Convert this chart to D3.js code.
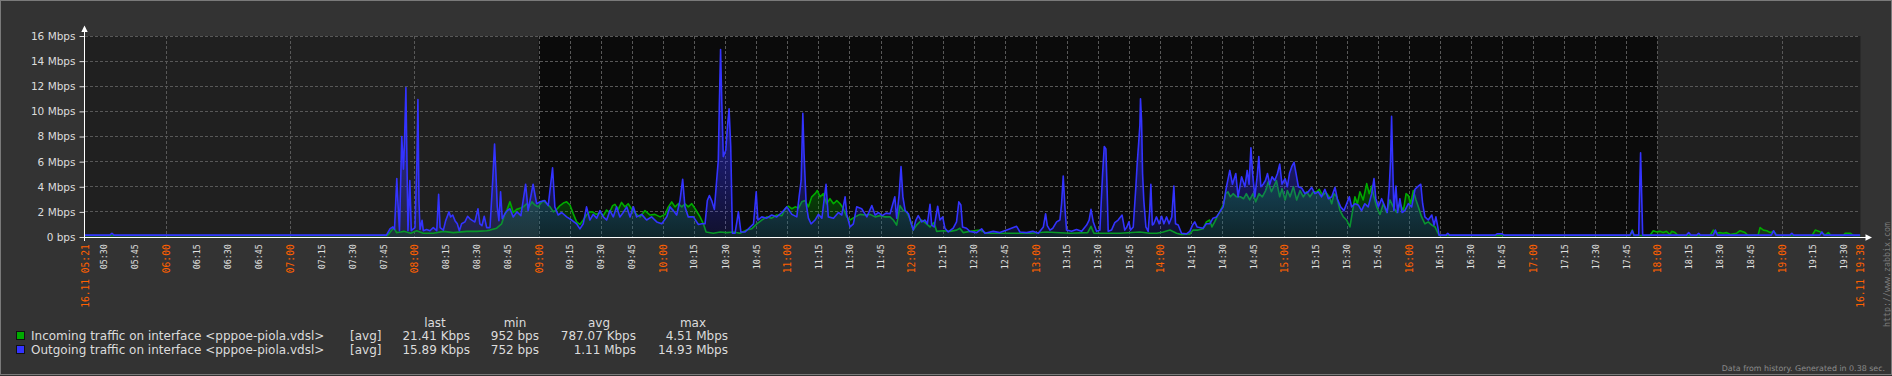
<!DOCTYPE html>
<html>
<head>
<meta charset="utf-8">
<script src="https://cdn.jsdelivr.net/npm/d3@7"></script>
<style>
  html, body { margin: 0; padding: 0; background: #333333; }
  svg { display: block; }
  text { font-family: "DejaVu Sans", sans-serif; }
</style>
</head>
<body>
<svg id="chart" width="1892" height="376"></svg>
<script>
// ---- data ----------------------------------------------------------------
// clock strings are "HH:MM", minutes may carry a decimal part
var periodStart = "05:21",
    periodEnd = "19:38",
    workStart = "09:00",
    workEnd = "18:00";

var yTicks = [0, 2, 4, 6, 8, 10, 12, 14, 16];   // Mbps

var seriesNames = [
    "Incoming traffic on interface <pppoe-piola.vdsl>",
    "Outgoing traffic on interface <pppoe-piola.vdsl>"
];
var statHeaders = ["last", "min", "avg", "max"];
var incomingStats = ["21.41 Kbps", "952 bps", "787.07 Kbps", "4.51 Mbps"];
var outgoingStats = ["15.89 Kbps", "752 bps", "1.11 Mbps", "14.93 Mbps"];

// incoming traffic, [clock, Mbps]
var incoming = [
["05:21",0.12],["07:47",0.12],["07:50.1",0.75],["07:51.4",0.35],["07:53.3",0.4],["07:54.9",0.45],["07:58.2",0.3],
["08:01.1",0.5],["08:04.3",0.3],["08:09.1",0.3],["08:14",0.45],["08:18.8",0.35],["08:25.3",0.45],["08:30.1",0.45],
["08:34.9",0.5],["08:36.5",0.55],["08:39.7",0.7],["08:42.1",1.05],["08:43.7",1.85],["08:44.8",2.2],["08:46.1",2.8],
["08:46.9",2.4],["08:47.7",1.95],["08:49.4",2.2],["08:51.3",2.3],["08:52.6",2.4],["08:54.2",2.65],["08:55.4",2.4],
["08:56.7",2.8],["08:58.2",2.55],["08:59.8",2.4],["09:01",2.7],["09:02.2",2.9],["09:03.9",2.65],["09:05.5",2.4],
["09:07.1",2.0],["09:08.7",2.2],["09:10.3",2.5],["09:11.9",2.7],["09:13.5",2.8],["09:15.1",2.55],["09:16.7",1.85],
["09:18.3",1.2],["09:19.9",1.0],["09:21.5",1.35],["09:23.1",1.75],["09:24.6",2.0],["09:26",2.0],["09:27.8",1.8],
["09:29.6",1.95],["09:31.2",1.7],["09:32.8",2.15],["09:34.2",1.95],["09:35.7",2.5],["09:36.8",2.6],["09:38.4",2.2],
["09:40",2.75],["09:41.6",2.4],["09:43.2",2.65],["09:45",2.2],["09:47.3",1.8],["09:48.9",1.6],["09:51.3",2.1],
["09:53.7",1.75],["09:56.1",1.8],["09:58.6",1.6],["10:01",1.8],["10:02.6",2.4],["10:04.2",2.8],["10:05.8",2.4],
["10:07.4",2.65],["10:09.1",2.4],["10:10.6",2.65],["10:12.2",2.4],["10:13.9",2.65],["10:15.5",2.25],["10:17.9",1.6],
["10:19.5",1.05],["10:20.8",0.4],["10:24.3",0.3],["10:27.6",0.4],["10:30.8",0.35],["10:34",0.4],["10:37.2",0.3],
["10:40.4",0.55],["10:42.8",0.65],["10:45.3",1.05],["10:47.7",1.35],["10:50.1",1.6],["10:52.5",1.5],["10:54.9",1.75],
["10:57.4",1.7],["10:59",2.25],["11:00.5",2.45],["11:02.2",2.25],["11:03.8",2.4],["11:05.4",2.3],["11:07",2.8],
["11:08.6",2.9],["11:10.2",2.4],["11:11.8",3.2],["11:13.4",3.45],["11:14.5",3.7],["11:15.8",3.2],["11:17.4",3.45],
["11:19",2.65],["11:20.6",3.05],["11:22.3",2.65],["11:23.9",2.9],["11:25.5",2.65],["11:27.1",2.25],["11:28.7",1.6],
["11:30.3",1.35],["11:32.7",1.6],["11:35.1",1.8],["11:37.5",1.75],["11:40",1.8],["11:42.4",1.6],["11:44.8",1.7],
["11:47.2",1.6],["11:49.6",1.6],["11:51.2",1.35],["11:52.8",0.95],["11:54.4",2.5],["11:56",2.1],["11:57.6",2.0],
["11:59.2",1.45],["12:00.8",0.55],["12:02.4",0.95],["12:04.9",1.35],["12:06.5",1.15],["12:08.9",0.8],["12:10.8",1.15],
["12:12.1",0.45],["12:15.3",0.5],["12:18.5",0.45],["12:21.7",0.55],["12:23.3",0.7],["12:24.9",0.35],["12:29.8",0.5],
["12:33",0.55],["12:36.2",0.3],["12:42.6",0.3],["12:57.1",0.3],["13:05.1",0.4],["13:16.4",0.3],["13:25",0.35],
["13:26.6",0.85],["13:28",0.3],["13:40.6",0.3],["13:50.2",0.4],["13:55",0.3],["13:58.4",0.3],["14:01.5",0.4],
["14:04.7",0.55],["14:07.9",0.3],["14:10.3",0.2],["14:14.3",0.25],["14:15.9",0.55],["14:18.3",0.55],["14:20.7",0.65],
["14:22.3",1.2],["14:23.9",1.35],["14:25",0.8],["14:26.3",1.2],["14:27.9",1.75],["14:29.5",2.25],["14:30.7",2.65],
["14:31.6",3.45],["14:32.7",3.6],["14:33.9",3.2],["14:35.2",3.45],["14:36.8",3.2],["14:38.7",3.2],["14:40.3",3.05],
["14:41.6",3.45],["14:43.2",2.95],["14:44.8",3.45],["14:46.1",2.8],["14:47.7",3.45],["14:49.3",3.2],["14:50.9",3.7],
["14:52.2",4.4],["14:53.7",3.6],["14:54.8",4.0],["14:56.1",4.5],["14:57.7",3.2],["14:58.8",3.85],["15:00.3",2.95],
["15:01.4",3.7],["15:02.7",3.2],["15:04.3",4.0],["15:05.9",2.95],["15:07.5",3.7],["15:09.1",3.2],["15:10.7",3.6],
["15:12.3",3.2],["15:13.9",3.6],["15:15.5",3.6],["15:16.8",3.8],["15:18.4",3.3],["15:20",3.55],["15:21.6",3.2],
["15:22.8",2.65],["15:23.9",3.45],["15:25.2",3.2],["15:26.8",2.1],["15:28.4",1.6],["15:30",1.35],["15:31.6",0.8],
["15:32.9",2.1],["15:34",3.2],["15:35.2",2.65],["15:36.4",3.6],["15:38",2.95],["15:39.7",4.25],["15:40.9",3.45],
["15:42.1",4.05],["15:43.2",3.2],["15:44.5",2.4],["15:46.1",1.8],["15:47.7",2.65],["15:49.3",1.95],["15:50.9",2.95],
["15:52.5",2.4],["15:54.2",1.95],["15:55.7",2.65],["15:57.4",2.1],["15:58.7",3.45],["15:59.8",3.3],["16:00.9",2.65],
["16:02.2",3.7],["16:03.5",2.95],["16:04.6",2.4],["16:06.2",1.6],["16:07.8",1.05],["16:09.4",1.2],["16:11.1",0.95],
["16:12.7",0.8],["16:13.8",0.4],["16:14.8",0.12],["17:46.8",0.12],["17:47.9",0.55],["17:48.7",0.12],["17:56.4",0.12],
["17:58",0.5],["17:59.7",0.4],["18:01.2",0.45],["18:02.8",0.35],["18:04.4",0.45],["18:06.1",0.2],["18:06.9",0.45],
["18:08.5",0.35],["18:10",0.12],["18:25.4",0.12],["18:27",0.55],["18:28.6",0.3],["18:30.2",0.35],["18:31.7",0.3],
["18:33.5",0.35],["18:35.1",0.2],["18:38.3",0.3],["18:39.9",0.5],["18:42.3",0.35],["18:43.8",0.12],["18:48.6",0.15],
["18:49.6",0.75],["18:51.2",0.55],["18:52.8",0.5],["18:54.5",0.35],["18:56.1",0.45],["18:57.8",0.12],["19:14.7",0.12],
["19:16.2",0.55],["19:17.8",0.45],["19:19.4",0.35],["19:21",0.15],["19:22.5",0.35],["19:23.9",0.12],["19:29.7",0.12],
["19:30.7",0.3],["19:33.1",0.3],["19:34.5",0.12],["19:38",0.12]
];

// outgoing traffic, [clock, Mbps]
var outgoing = [
["05:21",0.15],["05:33",0.15],["05:34",0.3],["05:35",0.15],["07:46.5",0.15],["07:48.3",0.67],["07:49.6",0.8],
["07:50.4",0.6],["07:51.5",4.65],["07:52",2.9],["07:52.8",0.5],["07:53.9",8.0],["07:54.7",5.4],["07:55.2",7.4],
["07:55.9",11.9],["07:56.4",6.1],["07:56.9",0.5],["07:57.8",4.5],["07:58.5",0.5],["07:59.2",0.6],["08:00.3",0.75],
["08:01.2",5.85],["08:01.7",10.95],["08:02.2",2.9],["08:02.7",0.6],["08:03.7",1.33],["08:04.3",0.5],["08:05.9",0.6],
["08:07.5",0.5],["08:09.1",0.75],["08:10.8",0.5],["08:11.7",3.4],["08:12.4",0.75],["08:14",0.55],["08:15.1",1.3],
["08:16.7",2.0],["08:17.5",1.6],["08:18.5",1.75],["08:19.6",1.3],["08:20.7",1.05],["08:21.7",0.5],["08:22.8",1.05],
["08:24.4",1.2],["08:25.7",1.65],["08:26.8",1.45],["08:28.1",1.3],["08:29.2",1.2],["08:30.7",2.25],["08:31.6",1.05],
["08:32.6",0.9],["08:33.7",1.65],["08:34.9",0.75],["08:36.5",0.75],["08:37.8",4.5],["08:38.7",7.4],["08:39.4",4.9],
["08:40",2.4],["08:40.8",1.3],["08:41.6",3.6],["08:42.4",1.45],["08:43.7",1.85],["08:44.8",2.1],["08:46.1",2.25],
["08:47.7",1.6],["08:49.5",2.0],["08:51.4",1.7],["08:53.7",4.2],["08:54.9",2.1],["08:57.3",4.2],["08:59",2.65],
["09:00.6",2.8],["09:03",2.9],["09:04.6",2.5],["09:06.7",5.5],["09:07.8",2.4],["09:09.4",1.75],["09:11.1",1.95],
["09:13.5",1.6],["09:15.9",1.35],["09:18.3",1.05],["09:19.9",0.65],["09:21.5",1.05],["09:23.1",2.4],["09:24.7",1.35],
["09:26.3",1.8],["09:28",1.5],["09:29.6",2.1],["09:31.2",1.6],["09:32.8",1.35],["09:34.4",2.1],["09:36",1.6],
["09:37.6",2.4],["09:39.2",1.6],["09:40.8",1.95],["09:42.5",2.4],["09:44.1",1.6],["09:45.7",2.4],["09:47.3",1.6],
["09:49.7",1.8],["09:52.1",1.35],["09:54.5",1.6],["09:57",1.2],["09:59.4",1.05],["10:01.8",1.6],["10:03.4",2.4],
["10:05",2.1],["10:06.6",1.75],["10:08.2",2.9],["10:09.5",4.6],["10:10.6",2.4],["10:12.2",1.6],["10:14.7",1.6],
["10:17.1",1.0],["10:18.7",1.05],["10:20.3",1.05],["10:21.4",2.9],["10:22.4",3.3],["10:23.5",2.9],["10:24.8",2.2],
["10:25.9",4.5],["10:26.7",6.1],["10:27.2",10.5],["10:27.8",14.93],["10:28.4",10.6],["10:29.1",6.4],["10:30.3",6.9],
["10:31.1",8.75],["10:31.9",10.2],["10:32.7",7.2],["10:33.5",0.3],["10:34.8",0.3],["10:36.4",2.0],["10:37.6",0.4],
["10:39.6",0.4],["10:42.1",0.8],["10:43.7",1.05],["10:45",3.6],["10:45.8",1.35],["10:47.7",1.6],["10:50.1",1.5],
["10:52.5",1.75],["10:54.9",1.6],["10:57.4",1.95],["10:59.8",2.4],["11:02.2",1.8],["11:04.6",1.6],["11:05.7",3.2],
["11:06.7",4.5],["11:07.5",9.85],["11:08.1",6.6],["11:09.1",2.65],["11:10.2",1.5],["11:11.5",1.05],["11:13.4",1.35],
["11:15",1.8],["11:16.7",1.5],["11:18.7",4.2],["11:19.8",1.6],["11:22.3",1.5],["11:24.7",1.95],["11:26.3",1.75],
["11:27.9",3.2],["11:28.7",1.8],["11:30.3",0.8],["11:31.9",1.05],["11:33.5",2.4],["11:35.9",2.25],["11:38.4",1.6],
["11:40.8",2.5],["11:42.4",1.75],["11:44",1.95],["11:45.8",1.7],["11:47.7",1.9],["11:49.6",1.85],["11:51.9",3.2],
["11:52.8",1.5],["11:54",3.4],["11:54.9",5.6],["11:55.8",3.2],["11:56.9",2.1],["11:58.5",1.85],["11:59.6",1.2],
["12:00.8",0.55],["12:02.1",1.35],["12:03.2",1.7],["12:04.9",1.2],["12:06.5",1.35],["12:07.6",1.05],["12:08.9",2.6],
["12:09.7",0.95],["12:10.9",0.8],["12:12.6",2.45],["12:13.7",1.35],["12:15",1.6],["12:16.1",0.7],["12:17.7",0.4],
["12:20.1",0.7],["12:21.7",1.2],["12:22.8",2.8],["12:23.8",2.55],["12:24.6",0.8],["12:26.5",0.7],["12:28.1",0.45],
["12:31.4",0.35],["12:33.8",0.65],["12:35.4",0.3],["12:39.4",0.45],["12:42.6",0.35],["12:46.6",0.6],["12:50.7",0.85],
["12:52.3",0.4],["12:55.5",0.35],["12:58.5",0.45],["13:01.2",0.3],["13:03.6",0.8],["13:04.7",1.85],["13:05.5",0.9],
["13:06.8",0.55],["13:08.2",0.7],["13:10",1.2],["13:11.6",1.35],["13:12.4",2.65],["13:13.2",4.85],["13:14",2.4],
["13:14.8",0.55],["13:17.2",0.45],["13:19.6",0.6],["13:22.1",0.45],["13:24.5",0.95],["13:25.7",1.35],["13:26.6",2.2],
["13:27.7",1.2],["13:29.3",0.45],["13:30.9",0.55],["13:32.2",5.05],["13:33",7.2],["13:33.8",7.0],["13:34.4",3.7],
["13:34.9",0.45],["13:36.5",0.55],["13:38.1",1.15],["13:39.7",1.35],["13:41.6",1.75],["13:42.9",0.55],["13:43.9",0.8],
["13:44.9",1.2],["13:45.7",0.55],["13:47",0.8],["13:48.3",4.1],["13:48.9",5.85],["13:49.6",7.45],["13:50.2",8.9],
["13:50.5",11.0],["13:51",9.3],["13:51.5",5.05],["13:52.1",2.9],["13:53.1",0.8],["13:54.2",0.45],["13:55",2.25],
["13:55.5",4.2],["13:56.2",0.95],["13:56.9",1.05],["13:58.2",1.6],["13:59.5",1.05],["14:00.7",1.65],["14:01.8",1.05],
["14:03.1",1.6],["14:04.3",1.05],["14:05.6",1.6],["14:06.6",4.05],["14:07.4",1.05],["14:08.7",0.95],["14:10.3",0.3],
["14:12.7",0.25],["14:14.3",0.45],["14:15.6",0.95],["14:16.7",1.2],["14:17.8",0.8],["14:20.7",0.7],["14:22.3",1.05],
["14:23.9",1.05],["14:25.5",1.5],["14:27.2",1.6],["14:28.8",2.0],["14:30.4",2.4],["14:32",4.0],["14:33.6",5.3],
["14:34.9",4.2],["14:36.5",5.05],["14:37.6",3.2],["14:39.3",4.8],["14:40.9",4.0],["14:42",5.3],["14:42.9",4.2],
["14:43.8",7.1],["14:44.6",5.05],["14:45.7",3.2],["14:46.8",4.8],["14:47.6",6.4],["14:48.6",4.0],["14:49.7",4.2],
["14:50.8",4.5],["14:51.8",5.05],["14:52.9",4.2],["14:54",4.8],["14:55.3",4.5],["14:56.6",5.05],["14:57.7",5.8],
["14:58.8",4.2],["15:00.3",4.65],["15:01.4",4.0],["15:02.4",5.05],["15:03.5",5.6],["15:04.6",5.95],["15:05.6",5.05],
["15:06.7",4.0],["15:08.3",3.9],["15:09.9",3.45],["15:11.5",3.6],["15:13.1",3.95],["15:14.7",3.45],["15:16.3",3.6],
["15:17.9",3.2],["15:19.5",3.8],["15:21.2",3.05],["15:22.8",3.2],["15:24.4",3.95],["15:25.5",3.05],["15:27.1",2.4],
["15:28.7",2.1],["15:30",2.65],["15:31.3",3.2],["15:32.4",2.4],["15:34",2.65],["15:35.6",2.55],["15:37.2",2.1],
["15:38.8",2.65],["15:40.4",2.4],["15:42.1",3.45],["15:43.2",4.65],["15:44.1",3.05],["15:45.3",2.4],["15:46.9",3.05],
["15:48.5",2.4],["15:49.6",1.95],["15:50.6",4.05],["15:51.2",6.1],["15:51.7",9.6],["15:52.2",6.1],["15:52.8",2.1],
["15:53.8",4.05],["15:54.6",1.95],["15:55.7",3.05],["15:56.8",1.95],["15:58.1",2.1],["15:59.8",2.65],["16:01.4",2.4],
["16:03",3.8],["16:04.6",4.05],["16:05.8",4.2],["16:06.7",2.65],["16:07.8",1.6],["16:09.4",1.35],["16:11.1",1.75],
["16:12.2",0.95],["16:13.1",1.6],["16:14",0.8],["16:14.6",0.15],["16:18",0.15],["16:18.8",0.3],["16:19.7",0.15],
["16:41.7",0.15],["16:42.6",0.25],["16:45.1",0.25],["16:46",0.15],["17:46.8",0.15],["17:47.9",0.5],["17:48.7",0.15],
["17:51",0.15],["17:51.4",3.45],["17:51.9",6.7],["17:52.4",3.45],["17:52.9",0.15],["18:14",0.15],["18:15.1",0.35],
["18:16.2",0.15],["18:19",0.15],["18:19.9",0.3],["18:20.8",0.15],["18:27",0.15],["18:28",0.55],["18:29",0.15],
["18:55",0.15],["18:56.1",0.5],["18:57.2",0.15],["19:04",0.15],["19:04.9",0.3],["19:05.8",0.15],["19:18.4",0.15],
["19:19.4",0.4],["19:20.4",0.15],["19:38",0.15]
];

// ---- drawing ---------------------------------------------------------------
var W = 1892, H = 376;
var colorIn = "#00aa00",
    colorOut = "#3333ff",
    orange = "#ff6000";

function clock(s) {
    var p = s.split(":"), m = +p[1];
    return new Date(2016, 10, 16, +p[0], Math.floor(m), Math.round((m % 1) * 60));
}

var t0 = clock(periodStart), t1 = clock(periodEnd);
var x = d3.scaleTime().domain([t0, t1]).range([85, 1860.4]);
var y = d3.scaleLinear().domain([0, 16]).range([237, 36]);

var svg = d3.select("#chart");

svg.append("rect").attr("width", W).attr("height", H).attr("fill", "#333333");
svg.append("rect")
    .attr("x", 0.5).attr("y", 0.5).attr("width", W - 1).attr("height", H - 2)
    .attr("fill", "none").attr("stroke", "#7a7a7a");

var defs = svg.append("defs");
defs.append("clipPath").attr("id", "plotclip").append("rect")
    .attr("x", x(t0)).attr("y", y(16)).attr("width", x(t1) - x(t0)).attr("height", y(0) - y(16));

function gradient(id, color, top, bottom) {
    var g = defs.append("linearGradient").attr("id", id)
        .attr("gradientUnits", "userSpaceOnUse")
        .attr("x1", 0).attr("x2", 0).attr("y1", y(6)).attr("y2", y(0));
    g.append("stop").attr("offset", 0).attr("stop-color", color).attr("stop-opacity", top);
    g.append("stop").attr("offset", 1).attr("stop-color", color).attr("stop-opacity", bottom);
}
gradient("gradIn", colorIn, 0.45, 0.15);
gradient("gradOut", colorOut, 0.38, 0.14);

// plot background, work period darker
svg.append("rect")
    .attr("x", x(t0)).attr("y", y(16)).attr("width", x(t1) - x(t0)).attr("height", y(0) - y(16))
    .attr("fill", "#202020");
svg.append("rect")
    .attr("x", x(clock(workStart))).attr("y", y(16))
    .attr("width", x(clock(workEnd)) - x(clock(workStart))).attr("height", y(0) - y(16))
    .attr("fill", "#0b0b0b");

// grid
var grid = svg.append("g").attr("stroke", "#585858").attr("stroke-dasharray", "3,2").attr("shape-rendering", "crispEdges");
grid.selectAll(".hgrid")
    .data(yTicks.filter(function(d) { return d > 0; }))
    .enter().append("line")
    .attr("class", "hgrid")
    .attr("x1", x(t0)).attr("x2", x(t1))
    .attr("y1", function(d) { return Math.floor(y(d)) + 0.5; })
    .attr("y2", function(d) { return Math.floor(y(d)) + 0.5; });

var quarterTicks = d3.timeMinute.every(15).range(t0, t1);
var ws = clock(workStart), we = clock(workEnd);
grid.selectAll(".vgrid")
    .data(quarterTicks.filter(function(d) {
        return d.getMinutes() === 0 || (d > ws && d < we);
    }))
    .enter().append("line")
    .attr("class", "vgrid")
    .attr("y1", y(16)).attr("y2", y(0))
    .attr("x1", function(d) { return Math.round(x(d)) + 0.5; })
    .attr("x2", function(d) { return Math.round(x(d)) + 0.5; });

// series
function rows(list) {
    return list.map(function(d) { return { t: clock(d[0]), v: d[1] }; });
}
var inData = rows(incoming), outData = rows(outgoing);

var area = d3.area()
    .x(function(d) { return x(d.t); })
    .y0(y(0))
    .y1(function(d) { return y(d.v); });
var line = d3.line()
    .x(function(d) { return x(d.t); })
    .y(function(d) { return y(d.v); });

var plot = svg.append("g").attr("clip-path", "url(#plotclip)");
plot.append("path").datum(inData).attr("d", area).attr("fill", "url(#gradIn)");
plot.append("path").datum(inData).attr("d", line)
    .attr("fill", "none").attr("stroke", colorIn).attr("stroke-width", 1.6).attr("stroke-linejoin", "round");
plot.append("path").datum(outData).attr("d", area).attr("fill", "url(#gradOut)");
plot.append("path").datum(outData).attr("d", line)
    .attr("fill", "none").attr("stroke", colorOut).attr("stroke-width", 1.6).attr("stroke-linejoin", "round");

// y axis
var yAxis = d3.axisLeft(y)
    .tickValues(yTicks)
    .tickSize(5)
    .tickPadding(4)
    .tickFormat(function(d) { return d === 0 ? "0 bps" : d + " Mbps"; });
var gy = svg.append("g").attr("transform", "translate(84.5,0)").call(yAxis);
gy.select(".domain").remove();
gy.selectAll("line").attr("stroke", "#e0e0e0");
gy.selectAll("text")
    .attr("fill", "#dcdcdc")
    .style("font-family", "'DejaVu Sans', sans-serif")
    .style("font-size", "10.5px");

// x axis, rotated labels
var labelTicks = [t0].concat(quarterTicks, [t1]);
var fmtShort = d3.timeFormat("%H:%M"), fmtLong = d3.timeFormat("%d.%m %H:%M");
function isMajor(d) { return +d === +t0 || +d === +t1 || d.getMinutes() === 0; }

var xAxis = d3.axisBottom(x)
    .tickValues(labelTicks)
    .tickSize(0)
    .tickFormat(function(d) { return (+d === +t0 || +d === +t1) ? fmtLong(d) : fmtShort(d); });
var gx = svg.append("g").attr("transform", "translate(0,237)").call(xAxis);
gx.select(".domain").remove();
gx.selectAll("text")
    .attr("transform", "rotate(-90)")
    .attr("x", -7.3)
    .attr("y", 0)
    .attr("dy", "0.35em")
    .style("text-anchor", "end")
    .style("font-family", "'DejaVu Sans Mono', monospace")
    .style("font-size", function(d) { return isMajor(d) ? "9.6px" : "8.3px"; })
    .attr("fill", function(d) { return isMajor(d) ? orange : "#e0e0e0"; });

// axis lines with arrows
svg.append("line").attr("x1", 84.5).attr("x2", 84.5).attr("y1", 31).attr("y2", 241)
    .attr("stroke", "#ffffff").attr("shape-rendering", "crispEdges");
svg.append("line").attr("x1", 84).attr("x2", 1867).attr("y1", 237.5).attr("y2", 237.5)
    .attr("stroke", "#ffffff").attr("shape-rendering", "crispEdges");
svg.append("path").attr("d", "M84.5,25.5L81.3,32L87.7,32Z").attr("fill", "#ffffff");
svg.append("path").attr("d", "M1872,237.5L1865.5,234.3L1865.5,240.7Z").attr("fill", "#ffffff");

// legend
var legend = svg.append("g").style("font-size", "12px").attr("fill", "#dcdcdc");
var headerX = [435, 515, 599, 693];
var valueX = [470, 539, 636, 728];
var rowY = [340, 354];

legend.selectAll(".hdr")
    .data(statHeaders)
    .enter().append("text")
    .attr("class", "hdr")
    .attr("x", function(d, i) { return headerX[i]; })
    .attr("y", 327)
    .style("text-anchor", "middle")
    .text(function(d) { return d; });

var legendRows = legend.selectAll(".row")
    .data([
        { name: seriesNames[0], color: colorIn, stats: incomingStats },
        { name: seriesNames[1], color: colorOut, stats: outgoingStats }
    ])
    .enter().append("g")
    .attr("class", "row")
    .attr("transform", function(d, i) { return "translate(0," + rowY[i] + ")"; });

legendRows.append("rect")
    .attr("x", 16.5).attr("y", -8.5).attr("width", 8).attr("height", 8)
    .attr("fill", function(d) { return d.color; })
    .attr("stroke", "#111111");
legendRows.append("text").attr("x", 31).text(function(d) { return d.name; });
legendRows.append("text").attr("x", 350).text("[avg]");
legendRows.selectAll(".val")
    .data(function(d) { return d.stats; })
    .enter().append("text")
    .attr("class", "val")
    .attr("x", function(d, i) { return valueX[i]; })
    .style("text-anchor", "end")
    .text(function(d) { return d; });

// footer and watermark
svg.append("text")
    .attr("x", 1885).attr("y", 371)
    .style("text-anchor", "end")
    .style("font-size", "7.9px")
    .attr("fill", "#8c8c8c")
    .text("Data from history. Generated in 0.38 sec.");
svg.append("text")
    .attr("transform", "translate(1887,327) rotate(-90)")
    .attr("dy", "0.35em")
    .style("font-family", "'DejaVu Sans Mono', monospace")
    .style("font-size", "8.3px")
    .attr("fill", "#7a7a7a")
    .text("http://www.zabbix.com");
</script>
</body>
</html>
